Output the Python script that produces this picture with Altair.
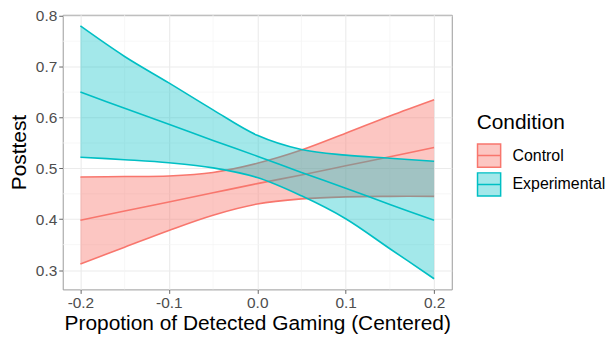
import altair as alt
import pandas as pd

# ---- data ----
x_vals = [-0.2, -0.15, -0.1, -0.05, 0.0, 0.05, 0.1, 0.15, 0.2]

control_lower = [0.312, 0.345, 0.378, 0.408, 0.430, 0.440, 0.444, 0.445, 0.445]
control_mid = [0.398, 0.416, 0.434, 0.452, 0.470, 0.487, 0.505, 0.523, 0.541]
control_upper = [0.483, 0.484, 0.485, 0.492, 0.510, 0.536, 0.569, 0.603, 0.635]

exp_lower = [0.522, 0.517, 0.511, 0.501, 0.482, 0.446, 0.401, 0.342, 0.283]
exp_mid = [0.650, 0.618, 0.587, 0.555, 0.524, 0.492, 0.461, 0.429, 0.398]
exp_upper = [0.780, 0.720, 0.668, 0.615, 0.565, 0.537, 0.526, 0.520, 0.514]

conditions = ["Control", "Experimental"]
colors = ["#F8766D", "#00BFC4"]
fill_colors = ["rgba(248,118,109,0.42)", "rgba(0,191,196,0.36)"]

x_ticks = [-0.2, -0.1, 0.0, 0.1, 0.2]
y_ticks = [0.3, 0.4, 0.5, 0.6, 0.7, 0.8]
x_minor = [-0.15, -0.05, 0.05, 0.15]
y_minor = [0.35, 0.45, 0.55, 0.65, 0.75]

rows = []
for cond, lo, mi, up in [
    ("Control", control_lower, control_mid, control_upper),
    ("Experimental", exp_lower, exp_mid, exp_upper),
]:
    for x, l, m, u in zip(x_vals, lo, mi, up):
        rows.append({"x": x, "Condition": cond, "lower": l, "mid": m, "upper": u})
df = pd.DataFrame(rows)

FONT = "Liberation Sans"
INTERP = "catmull-rom"
xscale = alt.Scale(domain=[-0.22, 0.22], nice=False, zero=False)
yscale = alt.Scale(domain=[0.262, 0.802], nice=False, zero=False)
sscale = alt.Scale(domain=conditions, range=colors)
fscale = alt.Scale(domain=conditions, range=fill_colors)

legend_path = "M-1,-1H1V1H-1Z M-1,0H1"

x_axis = alt.Axis(values=x_ticks, format=".1f", title="Propotion of Detected Gaming (Centered)",
                  labelExpr="replace(datum.label, '\u2212', '-')",
                  labelFontSize=15.5, titleFontSize=21, titleFontWeight="normal",
                  labelColor="#4D4D4D", titleColor="#000000", tickSize=4, tickColor="#666666",
                  labelPadding=2, titlePadding=2, domain=False, grid=True,
                  gridColor="#EBEBEB", gridWidth=1.1)
y_axis = alt.Axis(values=y_ticks, format=".1f", title="Posttest",
                  labelFontSize=15.5, titleFontSize=21, titleFontWeight="normal",
                  labelColor="#4D4D4D", titleColor="#000000", tickSize=4, tickColor="#666666",
                  labelPadding=2, titlePadding=6, domain=False, grid=True,
                  gridColor="#EBEBEB", gridWidth=1.1)

legend = alt.Legend(
    title="Condition", orient="none", legendX=416, legendY=98,
    symbolType=legend_path, symbolSize=540, symbolStrokeWidth=1.5,
    titleFontSize=21, labelFontSize=16, titleFontWeight="normal",
    titleColor="#000000", labelColor="#000000", labelOffset=11, rowPadding=-2,
    titlePadding=10, padding=0, titleFont=FONT, labelFont=FONT)

base = alt.Chart(df)

minor_x = alt.Chart(pd.DataFrame({"v": x_minor})).mark_rule(
    color="#F4F4F4", strokeWidth=0.7
).encode(x=alt.X("v:Q", scale=xscale, axis=x_axis))
minor_y = alt.Chart(pd.DataFrame({"v": y_minor})).mark_rule(
    color="#F4F4F4", strokeWidth=0.7
).encode(y=alt.Y("v:Q", scale=yscale, axis=y_axis))


def ribbon(cond):
    sub = base.transform_filter(alt.datum.Condition == cond)
    area = sub.mark_area(strokeWidth=0, interpolate=INTERP).encode(
        x=alt.X("x:Q", scale=xscale, axis=x_axis),
        y=alt.Y("lower:Q", scale=yscale, axis=y_axis),
        y2="upper:Q",
        fill=alt.Fill("Condition:N", scale=fscale, legend=legend),
        stroke=alt.Stroke("Condition:N", scale=sscale, legend=legend),
    )
    lines = sub.transform_fold(["lower", "mid", "upper"], as_=["bound", "val"]).mark_line(
        strokeWidth=1.6, interpolate=INTERP
    ).encode(
        x=alt.X("x:Q", scale=xscale, axis=x_axis),
        y=alt.Y("val:Q", scale=yscale, axis=y_axis),
        detail="bound:N",
        stroke=alt.Stroke("Condition:N", scale=sscale, legend=legend),
    )
    return [area, lines]


layers = [minor_x, minor_y] + ribbon("Control") + ribbon("Experimental")

chart = alt.layer(*layers).properties(
    width=391, height=276,
    padding={"left": 0, "top": 0, "right": 0, "bottom": 0},
).configure(font=FONT).configure_view(
    stroke="#9A9A9A", strokeWidth=1
).configure_axis(labelFont=FONT, titleFont=FONT)

chart.save("out.html", embed_options={"renderer": "svg", "actions": False})
